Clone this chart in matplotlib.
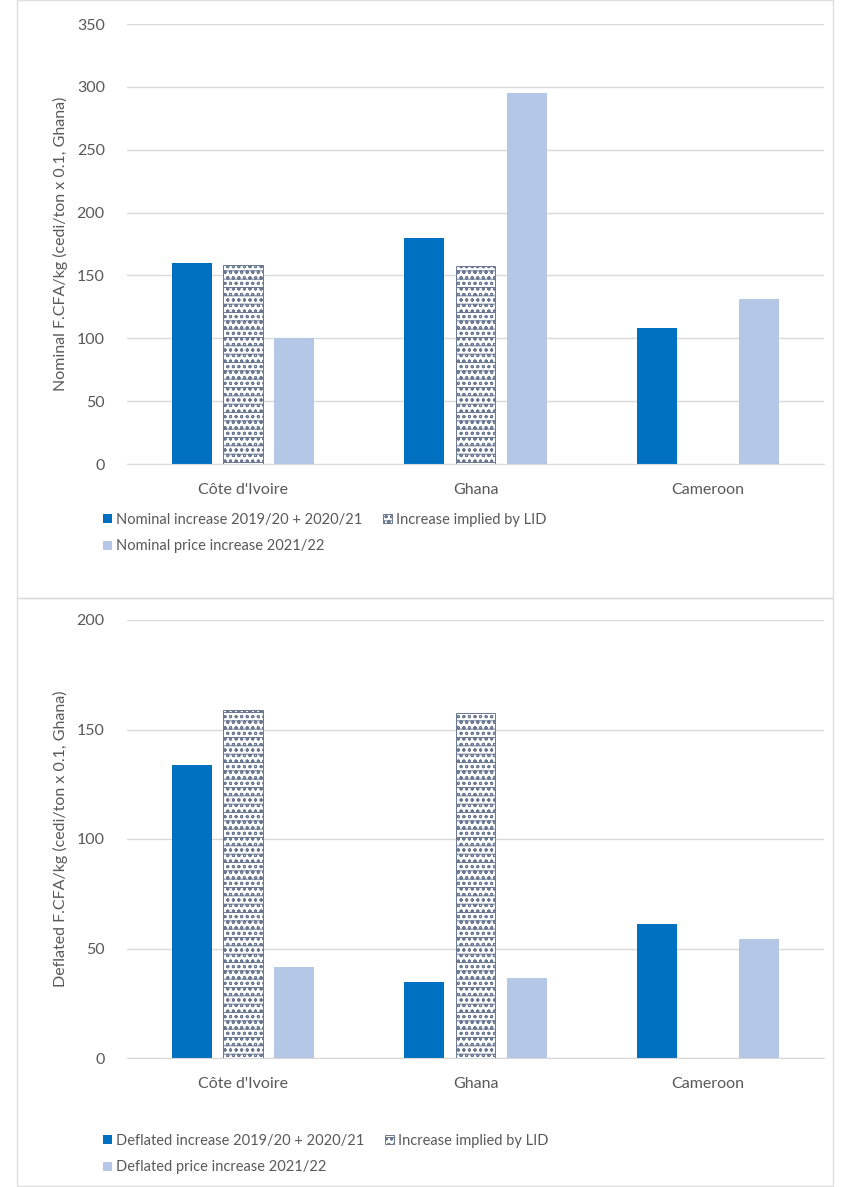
import matplotlib
matplotlib.use('Agg')
import matplotlib.pyplot as plt
import numpy as np
from matplotlib.patches import Rectangle

plt.rcParams['font.family'] = ['Lato', 'DejaVu Sans']
plt.rcParams['hatch.linewidth'] = 0.7

countries = ["Côte d'Ivoire", "Ghana", "Cameroon"]

# nominal, F.CFA/kg
nominal_increase = [160, 180, 108]
nominal_lid = [158.6, 157.5, 0]
nominal_2122 = [100, 295.5, 131]

# deflated, F.CFA/kg
deflated_increase = [134, 34.7, 61.3]
deflated_lid = [158.8, 157.5, 0]
deflated_2122 = [41.6, 36.6, 54.2]

dark_blue = '#0070C0'
light_blue = '#B4C7E7'
hatch_col = '#6A7891'
text_col = '#595959'
grid_col = '#D9D9D9'

W, H = 844, 1187
fig = plt.figure(figsize=(W / 100, H / 100), dpi=100)

# panel frames
for y0, y1 in [(0, 598), (598, 1186)]:
    fig.patches.append(Rectangle((17 / W, 1 - y1 / H), (833 - 17) / W, (y1 - y0) / H,
                                 transform=fig.transFigure, fill=False,
                                 edgecolor='#DEDEDE', linewidth=1.0))


def draw_panel(ax, s1, s2, s3, labels, ymax, ylabel, leg_y):
    x = np.arange(len(countries))
    bw = 0.172
    off = 0.22
    b1 = ax.bar(x - off, s1, bw, color=dark_blue, zorder=3)
    b2 = ax.bar(x, s2, bw, color='white', edgecolor=hatch_col, hatch='--ooo',
                linewidth=0.7, zorder=3)
    b3 = ax.bar(x + off, s3, bw, color=light_blue, zorder=3)

    ax.set_xlim(-0.5, 2.5)
    ax.set_ylim(0, ymax)
    ax.set_yticks(np.arange(0, ymax + 1, 50))
    ax.yaxis.grid(True, color=grid_col, linewidth=1.0, zorder=0)
    for side in ['top', 'right', 'left']:
        ax.spines[side].set_visible(False)
    ax.spines['bottom'].set_color(grid_col)
    ax.spines['bottom'].set_zorder(4)
    ax.tick_params(axis='both', length=0, labelsize=11.5, labelcolor=text_col)
    ax.tick_params(axis='y', pad=16)
    ax.tick_params(axis='x', pad=14)
    ax.set_xticks(x)
    ax.set_xticklabels(countries)
    ax.set_ylabel(ylabel, fontsize=11.5, color=text_col, labelpad=6)

    fig.legend([b1, b3, b2], [labels[0], labels[2], labels[1]], ncol=2,
               loc='upper left', bbox_to_anchor=(103 / W, 1 - leg_y / H),
               frameon=False, fontsize=10.5, labelcolor=text_col,
               handlelength=0.6, handleheight=0.6, handletextpad=0.3,
               columnspacing=1.4, borderpad=0, borderaxespad=0, labelspacing=0.85)


ax1 = fig.add_axes([127 / W, 1 - 464 / H, 697 / W, 440 / H])
draw_panel(ax1, nominal_increase, nominal_lid, nominal_2122,
           ['Nominal increase 2019/20 + 2020/21', 'Increase implied by LID',
            'Nominal price increase 2021/22'],
           350, 'Nominal F.CFA/kg (cedi/ton x 0.1, Ghana)', 513)

ax2 = fig.add_axes([127 / W, 1 - 1058 / H, 697 / W, 438 / H])
draw_panel(ax2, deflated_increase, deflated_lid, deflated_2122,
           ['Deflated increase 2019/20 + 2020/21', 'Increase implied by LID',
            'Deflated price increase 2021/22'],
           200, 'Deflated F.CFA/kg (cedi/ton x 0.1, Ghana)', 1134)

fig.savefig('out.png', dpi=100)
